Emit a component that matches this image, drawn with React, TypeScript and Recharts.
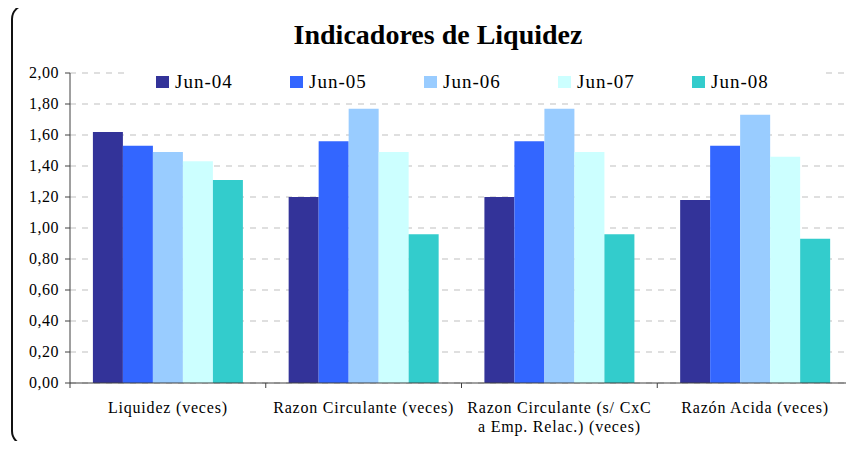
import React from 'react'
import { BarChart, Bar, XAxis, YAxis, CartesianGrid, Legend } from 'recharts'

const FONT = '"Liberation Serif", "Times New Roman", serif'

const categories = [
  'Liquidez (veces)',
  'Razon Circulante (veces)',
  'Razon Circulante (s/ CxC\na Emp. Relac.) (veces)',
  'Razón Acida (veces)',
]
const seriesNames = ['Jun-04', 'Jun-05', 'Jun-06', 'Jun-07', 'Jun-08']
const seriesColors = ['#333399', '#3366FF', '#99CCFF', '#CCFFFF', '#33CCCC']
const jun04 = [1.62, 1.2, 1.2, 1.18]
const jun05 = [1.53, 1.56, 1.56, 1.53]
const jun06 = [1.49, 1.77, 1.77, 1.73]
const jun07 = [1.43, 1.49, 1.49, 1.46]
const jun08 = [1.31, 0.96, 0.96, 0.93]
const yTicks = [0, 0.2, 0.4, 0.6, 0.8, 1.0, 1.2, 1.4, 1.6, 1.8, 2.0]

const seriesValues = [jun04, jun05, jun06, jun07, jun08]
const data = categories.map((name, i) => {
  const row: Record<string, any> = { name }
  seriesNames.forEach((s, j) => { row[s] = seriesValues[j][i] })
  return row
})

function CategoryTick(props: any) {
  const { x, y, payload, index } = props
  const lines = String(payload.value).split('\n')
  const half = payload.offset ?? 0
  return (
    <g>
      <line x1={x - half} x2={x - half} y1={y} y2={y + 5} stroke="#404040" />
      {index === categories.length - 1 && (
        <line x1={x + half} x2={x + half} y1={y} y2={y + 5} stroke="#404040" />
      )}
      <text x={x} y={y + 30} textAnchor="middle" fill="#000"
        style={{ fontFamily: FONT, fontSize: 16, letterSpacing: 0.8 }}>
        {lines.map((l, i) => (
          <tspan key={i} x={x} dy={i === 0 ? 0 : 19}>{l}</tspan>
        ))}
      </text>
    </g>
  )
}

function ValueTick(props: any) {
  const { x, y, payload } = props
  return (
    <text x={x} y={y} dy={5} textAnchor="end" fill="#000"
      style={{ fontFamily: FONT, fontSize: 16, letterSpacing: 0.5 }}>
      {Number(payload.value).toFixed(2).replace('.', ',')}
    </text>
  )
}

function LegendBox() {
  return (
    <div style={{
      background: '#fff', height: 28, display: 'flex', alignItems: 'center', paddingLeft: 32,
      fontFamily: FONT,
    }}>
      {seriesNames.map((s, i) => (
        <div key={s} style={{ width: 141, display: 'flex', alignItems: 'center' }}>
          <span style={{ width: 13, height: 12, background: seriesColors[i], marginRight: 6, display: 'inline-block' }} />
          <span style={{ fontSize: 19, color: '#000', letterSpacing: 1 }}>{s}</span>
        </div>
      ))}
    </div>
  )
}

export default function App() {
  return (
    <div style={{ position: 'relative', width: 854, height: 449, margin: -8, overflow: 'hidden', background: '#fff', fontFamily: FONT }}>
      <div style={{
        position: 'absolute', left: 0, top: 21, width: 876, textAlign: 'center',
        fontSize: 28, fontWeight: 'bold', lineHeight: 1, color: '#000',
      }}>
        Indicadores de Liquidez
      </div>
      <div style={{ position: 'absolute', left: 0, top: 0 }}>
        <BarChart
          width={854}
          height={449}
          data={data}
          margin={{ top: 73, right: 1, bottom: 16, left: 10 }}
          barCategoryGap="11.7%"
          barGap={0}
        >
          <CartesianGrid vertical={false} stroke="#bfbfbf" strokeDasharray="6 6" />
          <XAxis
            dataKey="name"
            height={50}
            interval={0}
            tickSize={0}
            tickMargin={0}
            tickLine={false}
            axisLine={{ stroke: '#404040' }}
            tick={<CategoryTick />}
          />
          <YAxis
            width={60}
            domain={[0, 2]}
            ticks={yTicks}
            interval={0}
            tickSize={5}
            tickMargin={6}
            axisLine={{ stroke: '#404040' }}
            tickLine={{ stroke: '#404040' }}
            tick={<ValueTick />}
          />
          <Legend
            layout="horizontal"
            verticalAlign="middle"
            align="center"
            wrapperStyle={{ top: 68, left: 124, width: 702, height: 28 }}
            content={<LegendBox />}
          />
          {seriesNames.map((s, i) => (
            <Bar key={s} dataKey={s} fill={seriesColors[i]} isAnimationActive={false} />
          ))}
        </BarChart>
      </div>
      <svg width={854} height={449} style={{ position: 'absolute', left: 0, top: 0, pointerEvents: 'none' }}>
        <path d="M 26 5 L 860 5" stroke="#111" strokeWidth={2} fill="none" />
        <path d="M 26 445 L 860 445" stroke="#111" strokeWidth={2} fill="none" />
        <path d="M 12 19 L 12 431" stroke="#111" strokeWidth={2} fill="none" />
        <path d="M 12 19 A 14 14 0 0 1 26 5" stroke="#111" strokeWidth={2} fill="none" />
        <path d="M 12 431 A 14 14 0 0 0 26 445" stroke="#111" strokeWidth={2} fill="none" />
      </svg>
    </div>
  )
}
